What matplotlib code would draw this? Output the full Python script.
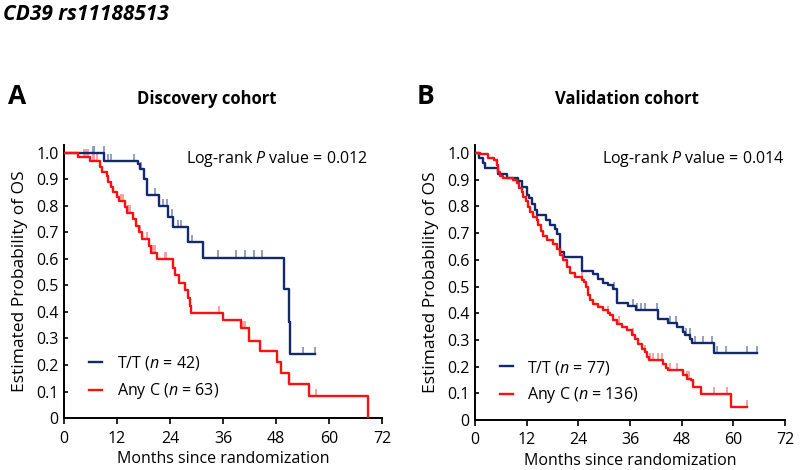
import numpy as np
import matplotlib
matplotlib.use("Agg")
import matplotlib.pyplot as plt

plt.rcParams['font.family'] = ['Open Sans', 'DejaVu Sans']
plt.rcParams['mathtext.fontset'] = 'custom'
plt.rcParams['mathtext.it'] = 'Open Sans:italic'
plt.rcParams['mathtext.rm'] = 'Open Sans'

# ---------------- data ----------------
x_ticks = [0, 12, 24, 36, 48, 60, 72]
y_ticks = [0, 0.1, 0.2, 0.3, 0.4, 0.5, 0.6, 0.7, 0.8, 0.9, 1.0]
y_ticklabels = ["0", "0.1", "0.2", "0.3", "0.4", "0.5", "0.6", "0.7", "0.8", "0.9", "1.0"]

# Panel A: Discovery cohort
a_tt_time = [0, 9.1, 16.7, 17.3, 18.0, 18.8, 21.4, 23.6, 24.7, 28.1, 31.4, 49.8, 51.0, 51.2, 56.9]
a_tt_surv = [1.0, 0.97, 0.958, 0.938, 0.90, 0.84, 0.80, 0.76, 0.72, 0.665, 0.605, 0.486, 0.363, 0.242, 0.242]
a_tt_cens = [6.5, 6.9, 9.0, 10.0, 10.6, 15.9, 17.5, 20.7, 22.4, 23.3, 24.5, 25.9, 26.6, 28.9,
             34.9, 38.9, 40.9, 43.0, 44.9, 54.0, 56.9]

a_c_time = [0, 3.2, 5.9, 8.1, 8.5, 9.7, 10.0, 10.6, 11.2, 11.9, 12.4, 13.8, 14.2, 15.7, 16.4,
            17.0, 17.6, 19.3, 19.8, 21.0, 24.7, 25.1, 26.1, 27.4, 28.1, 28.5, 28.7, 36.0, 40.0,
            41.9, 44.3, 48.3, 49.2, 51.0, 55.5, 68.9]
a_c_surv = [1.0, 0.986, 0.970, 0.948, 0.929, 0.913, 0.892, 0.873, 0.854, 0.835, 0.819, 0.797,
            0.775, 0.750, 0.725, 0.700, 0.675, 0.650, 0.624, 0.599, 0.565, 0.540, 0.511, 0.483,
            0.452, 0.423, 0.397, 0.368, 0.338, 0.292, 0.254, 0.213, 0.171, 0.128, 0.084, 0.0]
a_c_cens = [4.6, 5.0, 5.5, 6.5, 6.9, 7.5, 12.8, 13.3, 14.6, 15.0, 17.2, 18.7, 20.2, 20.5,
            22.8, 23.2, 35.1, 40.6, 40.9, 57.0]

# Panel B: Validation cohort
b_tt_time = [0, 1.0, 1.8, 2.3, 5.4, 7.4, 10.1, 10.8, 12.0, 12.6, 13.2, 13.9, 14.3, 16.5, 17.4,
             18.6, 19.1, 19.7, 20.7, 24.8, 27.5, 28.6, 29.8, 31.0, 32.1, 33.0, 35.6, 37.5, 42.5,
             44.9, 46.8, 48.4, 48.8, 50.0, 50.3, 55.5, 65.4]
b_tt_surv = [1.0, 0.980, 0.961, 0.945, 0.920, 0.907, 0.895, 0.874, 0.842, 0.830, 0.811, 0.786,
             0.767, 0.749, 0.730, 0.717, 0.695, 0.630, 0.610, 0.558, 0.546, 0.530, 0.513, 0.505,
             0.489, 0.438, 0.426, 0.411, 0.378, 0.363, 0.348, 0.330, 0.317, 0.305, 0.288, 0.250,
             0.250]
b_tt_cens = [32.2, 36.6, 37.7, 38.5, 39.5, 42.2, 45.3, 46.7, 49.0, 49.9, 51.1, 52.9, 55.0,
             56.1, 58.3, 63.1, 65.4]

b_c_time = [0, 1.2, 3.1, 4.4, 5.0, 5.4, 5.8, 6.6, 8.9, 9.7, 10.3, 10.8, 11.2, 11.8, 12.4, 12.8,
            13.5, 14.3, 14.7, 15.3, 15.9, 16.8, 18.2, 19.1, 19.7, 20.5, 21.3, 22.1, 23.2, 24.8,
            25.3, 25.8, 26.3, 26.7, 27.5, 28.6, 29.8, 31.0, 31.4, 32.1, 32.9, 34.1, 35.2, 36.4,
            37.2, 37.9, 38.7, 39.5, 40.0, 40.5, 43.7, 44.4, 44.9, 48.4, 49.2, 50.1, 50.6, 52.4,
            59.4, 63.1]
b_c_surv = [1.0, 0.995, 0.982, 0.974, 0.955, 0.930, 0.915, 0.907, 0.899, 0.886, 0.868, 0.853,
            0.836, 0.820, 0.799, 0.780, 0.761, 0.749, 0.730, 0.707, 0.690, 0.674, 0.661, 0.642,
            0.617, 0.598, 0.573, 0.549, 0.536, 0.526, 0.517, 0.498, 0.467, 0.448, 0.436, 0.423,
            0.413, 0.401, 0.392, 0.373, 0.361, 0.348, 0.336, 0.317, 0.305, 0.286, 0.267, 0.254,
            0.236, 0.223, 0.211, 0.196, 0.186, 0.167, 0.155, 0.148, 0.123, 0.098, 0.048, 0.048]
b_c_cens = [24.8, 31.0, 33.5, 36.6, 39.5, 40.6, 41.4, 42.5, 43.4, 45.4, 46.8, 49.2, 49.8,
            55.5, 58.6, 63.1]

NAVY = '#14286e'
RED = '#ff1010'
NAVY_T = '#8a98c0'
RED_T = '#f59a9a'


def surv_at(times, surv, t):
    idx = np.searchsorted(np.asarray(times), t, side='right') - 1
    return np.asarray(surv)[idx]


def draw_panel(ax, tt_t, tt_s, tt_c, c_t, c_s, c_c, n_tt, n_c, ptxt, px, ly):
    for tm, sv, cc, col, tcol, lab in [
        (tt_t, tt_s, tt_c, NAVY, NAVY_T, f"T/T ($\\mathit{{n}}$ = {n_tt})"),
        (c_t, c_s, c_c, RED, RED_T, f"Any C ($\\mathit{{n}}$ = {n_c})"),
    ]:
        ax.step(tm, sv, where='post', color=col, lw=1.7, label=lab, zorder=3)
        cs = surv_at(tm, sv, np.asarray(cc))
        ax.vlines(cc, cs, cs + 0.027, color=tcol, lw=1.3, zorder=2)
    ax.set_xlim(0, 72)
    ax.set_ylim(0, 1.03)
    ax.set_xticks(x_ticks)
    ax.set_yticks(y_ticks)
    ax.set_yticklabels(y_ticklabels)
    ax.spines['top'].set_visible(False)
    ax.spines['right'].set_visible(False)
    for sp in ['left', 'bottom']:
        ax.spines[sp].set_linewidth(1.4)
    ax.tick_params(axis='x', direction='out', length=4, width=1.2, labelsize=11.5, pad=5)
    ax.tick_params(axis='y', direction='in', length=3, width=1.2, labelsize=11.5, pad=4)
    ax.set_xlabel("Months since randomization", fontsize=11.5, labelpad=3)
    ax.set_ylabel("Estimated Probability of OS", fontsize=12.5, labelpad=6)
    ax.text(px, 0.95, ptxt, transform=ax.transAxes, ha='right', va='center', fontsize=11.5)
    ax.legend(loc='lower left', bbox_to_anchor=(0.06, ly), frameon=False, fontsize=11.5,
              handlelength=0.8, handletextpad=0.9, labelspacing=0.55, borderaxespad=0)


fig = plt.figure(figsize=(8, 4.7), dpi=100)
axA = fig.add_axes([0.08, 0.1106, 0.3975, 0.581])
axB = fig.add_axes([0.59375, 0.1064, 0.3875, 0.585])

draw_panel(axA, a_tt_time, a_tt_surv, a_tt_cens, a_c_time, a_c_surv, a_c_cens, 42, 63,
           "Log-rank $\\mathit{P}$ value = 0.012", 0.955, 0.038)
draw_panel(axB, b_tt_time, b_tt_surv, b_tt_cens, b_c_time, b_c_surv, b_c_cens, 77, 136,
           "Log-rank $\\mathit{P}$ value = 0.014", 1.0, 0.03)

fig.text(0.004, 1 - 14 / 470, "CD39 rs11188513", fontsize=15, fontweight='bold',
         fontstyle='italic', ha='left', va='center')
fig.text(0.010, 1 - 96 / 470, "A", fontsize=19, fontweight='bold', ha='left', va='center')
fig.text(0.521, 1 - 96 / 470, "B", fontsize=19, fontweight='bold', ha='left', va='center')
fig.text(207 / 800, 1 - 99 / 470, "Discovery cohort", fontsize=12, fontweight='bold',
         ha='center', va='center')
fig.text(627 / 800, 1 - 99 / 470, "Validation cohort", fontsize=12, fontweight='bold',
         ha='center', va='center')

fig.savefig("out.png", dpi=100)
